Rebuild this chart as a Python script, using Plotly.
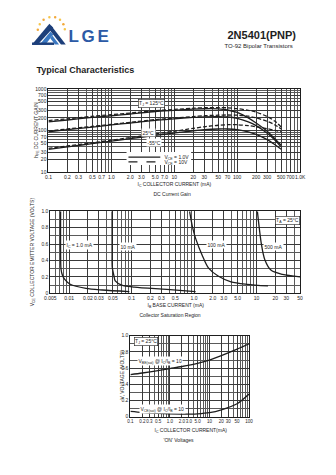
import math
import plotly.graph_objects as go

# ---------------- data ----------------
# DC current gain vs collector current (mA)
ic_gain = [0.1, 0.2, 0.5, 1, 2, 5, 10, 20, 30, 50, 70, 100, 150, 200, 300, 400, 500]
hfe_125_1v = [160, 178, 205, 225, 248, 285, 305, 325, 332, 330, 310, 270, 200, 150, 95, 62, 44]
hfe_125_10v = [172, 190, 218, 240, 262, 298, 320, 342, 352, 355, 350, 335, 305, 275, 215, 165, 120]
hfe_25_1v = [92, 104, 120, 135, 150, 175, 190, 205, 212, 215, 210, 195, 160, 130, 85, 58, 40]
hfe_25_10v = [96, 108, 125, 140, 156, 182, 198, 215, 225, 232, 235, 232, 220, 200, 165, 135, 108]
hfe_m55_1v = [35, 40, 48, 55, 63, 76, 86, 98, 104, 108, 108, 104, 92, 80, 60, 45, 35]
hfe_m55_10v = [37, 42, 50, 58, 67, 82, 95, 112, 122, 133, 137, 137, 130, 122, 110, 100, 92]

gain_xticks = [0.1, 0.2, 0.3, 0.5, 0.7, 1, 2, 3, 5, 7, 10, 20, 30, 50, 70, 100, 200, 300, 500, 700, 1000]
gain_xtext = ["0.1", "0.2", "0.3", "0.5", "0.7", "1.0", "2.0", "3.0", "5.0", "7.0", "10", "20", "30",
              "50", "70", "100", "200", "300", "500", "700", "1.0K"]
gain_yticks = [10, 20, 30, 50, 70, 100, 200, 300, 500, 700, 1000]

# Collector saturation region: VCE vs base current (mA)
ib_1ma = [0.0073, 0.0073, 0.0074, 0.0078, 0.0085, 0.0104, 0.0186, 0.034, 0.092]
vce_1ma = [1.0, 0.5, 0.3, 0.22, 0.17, 0.11, 0.06, 0.04, 0.02]
ib_10ma = [0.0487, 0.0487, 0.049, 0.052, 0.0547, 0.0695, 0.111, 0.366, 1.06]
vce_10ma = [1.0, 0.5, 0.32, 0.22, 0.15, 0.10, 0.076, 0.048, 0.02]
ib_100ma = [0.85, 0.95, 1.06, 1.34, 1.70, 2.43, 3.91, 7.07, 15.3]
vce_100ma = [1.0, 0.8, 0.67, 0.47, 0.31, 0.21, 0.14, 0.11, 0.09]
ib_500ma = [10.35, 12.05, 13.6, 17.2, 26.1, 50]
vce_500ma = [1.0, 0.59, 0.41, 0.28, 0.23, 0.2]

sat_xticks = [0.005, 0.01, 0.02, 0.03, 0.05, 0.1, 0.2, 0.3, 0.5, 1, 2, 3, 5, 10, 20, 30, 50]
sat_xtext = ["0.005", "0.01", "0.02", "0.03", "0.05", "0.1", "0.2", "0.3", "0.5", "1.0", "2.0",
             "3.0", "5.0", "10", "20", "30", "50"]
volt_yticks = [0, 0.2, 0.4, 0.6, 0.8, 1.0]
volt_ytext = ["0", "0.2", "0.4", "0.6", "0.8", "1.0"]

# "ON" voltages vs collector current (mA)
ic_on = [0.1, 0.2, 0.5, 1, 2, 5, 10, 20, 50, 100]
vbe_sat = [0.52, 0.54, 0.57, 0.595, 0.62, 0.66, 0.70, 0.755, 0.835, 0.90]
vce_sat = [0.065, 0.052, 0.04, 0.034, 0.032, 0.036, 0.05, 0.085, 0.16, 0.28]

on_xticks = [0.1, 0.2, 0.3, 0.5, 1, 2, 3, 5, 10, 20, 30, 50, 100]
on_xtext = ["0.1", "0.2", "0.3", "0.5", "1.0", "2.0", "3.0", "5.0", "10", "20", "30", "50", "100"]

# ---------------- page geometry helpers ----------------
W, H = 336, 475
FONT = "Liberation Sans, Arial, sans-serif"
INK = "#1e1e1e"
TICK = 5


def fx(x):
    return x / W


def fy(y):
    return 1 - y / H


def decade_minors(lo, hi):
    vals = []
    e = math.floor(math.log10(lo))
    while 10 ** e <= hi:
        for m in range(1, 10):
            v = m * 10 ** e
            if lo <= v * 1.0000001 and v <= hi * 1.0000001:
                vals.append(v)
        e += 1
    return vals


annotations = []
shapes = []


def text(x, y, s, size=5, bold=False, xanchor="center", bg=None, border=None, angle=0, color=INK):
    if bold:
        s = "<b>" + s + "</b>"
    a = dict(x=fx(x), y=fy(y), xref="paper", yref="paper", text=s, showarrow=False,
             xanchor=xanchor, yanchor="middle", textangle=angle,
             font=dict(family=FONT, size=size, color=color), borderpad=0.5)
    if bg:
        a["bgcolor"] = bg
    if border:
        a["bordercolor"] = border
        a["borderwidth"] = 0.6
    annotations.append(a)


def poly(points, fill):
    d = "M " + " L ".join(f"{fx(px):.5f},{fy(py):.5f}" for px, py in points) + " Z"
    shapes.append(dict(type="path", path=d, xref="paper", yref="paper", fillcolor=fill,
                       line=dict(width=0), layer="above"))


def seg(x0, y0, x1, y1, color=INK, width=1.2, dash="solid"):
    shapes.append(dict(type="line", x0=fx(x0), y0=fy(y0), x1=fx(x1), y1=fy(y1),
                       xref="paper", yref="paper", line=dict(color=color, width=width, dash=dash),
                       layer="above"))


# ---------------- figure ----------------
fig = go.Figure()

LW = 1.3
DASH = "4px,2px"


def curve(x, y, xa, ya, dash="solid"):
    fig.add_trace(go.Scatter(x=x, y=y, xaxis=xa, yaxis=ya, mode="lines",
                             line=dict(color=INK, width=LW, dash=dash, shape="spline", smoothing=0.8),
                             showlegend=False, hoverinfo="skip"))


# DC current gain
curve(ic_gain, hfe_125_1v, "x", "y")
curve(ic_gain, hfe_125_10v, "x", "y", DASH)
curve(ic_gain, hfe_25_1v, "x", "y")
curve(ic_gain, hfe_25_10v, "x", "y", DASH)
curve(ic_gain, hfe_m55_1v, "x", "y")
curve(ic_gain, hfe_m55_10v, "x", "y", DASH)

# Collector saturation region
curve(ib_1ma, vce_1ma, "x2", "y2")
curve(ib_10ma, vce_10ma, "x2", "y2")
curve(ib_100ma, vce_100ma, "x2", "y2")
curve(ib_500ma, vce_500ma, "x2", "y2")

# ON voltages
curve(ic_on, vbe_sat, "x3", "y3")
curve(ic_on, vce_sat, "x3", "y3")

GRID = "#3a3a3a"


def axis(domain, anchor, rng, tickvals, ticktext, log=False, minor_vals=None, size=TICK):
    a = dict(domain=domain, anchor=anchor, range=rng, showline=True, linecolor=INK, linewidth=1,
             mirror=True, ticks="", showgrid=True, gridcolor=GRID, gridwidth=0.6, zeroline=False,
             tickmode="array", tickvals=tickvals, ticktext=ticktext, tickangle=0,
             tickfont=dict(family=FONT, size=size, color=INK), fixedrange=True)
    if log:
        a["type"] = "log"
    if minor_vals is not None:
        a["minor"] = dict(tickmode="array", tickvals=minor_vals, showgrid=True,
                          gridcolor="#5a5a5a", gridwidth=0.5, ticks="")
    return a


fig.update_layout(
    width=W, height=H, margin=dict(l=0, r=0, t=0, b=0),
    paper_bgcolor="white", plot_bgcolor="white", showlegend=False,
    xaxis=axis([fx(44), fx(305)], "y", [-1, 3], gain_xticks, gain_xtext, log=True,
               minor_vals=decade_minors(0.1, 1000)),
    yaxis=axis([fy(171), fy(87)], "x", [1, 3], gain_yticks, [str(v) for v in gain_yticks], log=True,
               minor_vals=decade_minors(10, 1000)),
    xaxis2=axis([fx(46), fx(305)], "y2", [math.log10(0.005), math.log10(50)], sat_xticks, sat_xtext,
                log=True, minor_vals=decade_minors(0.005, 50)),
    yaxis2=axis([fy(294), fy(211)], "x2", [0, 1.0], volt_yticks, volt_ytext,
                minor_vals=[i / 10 for i in range(11)]),
    xaxis3=axis([fx(129), fx(252)], "y3", [-1, 2], on_xticks, on_xtext, log=True,
                minor_vals=decade_minors(0.1, 100), size=4.5),
    yaxis3=axis([fy(419), fy(337)], "x3", [0, 1.0], volt_yticks, volt_ytext,
                minor_vals=[i / 10 for i in range(11)]),
)

# ---------------- header ----------------
# logo mark: stacked peaks
NAVY = "#1d3f7a"
BLUE = "#3a78c2"
poly([(27, 42), (45, 21), (49, 25), (33, 42)], NAVY)
poly([(35, 42), (46, 29), (49, 32), (41, 42)], BLUE)
poly([(47, 23), (62, 42), (57, 42), (45, 27)], NAVY)
poly([(48, 33), (55, 42), (51, 42), (46, 36)], BLUE)
poly([(27, 40), (50, 40), (50, 42.5), (27, 42.5)], NAVY)
# arc of dots
dot_colors = ["#f2a93b", "#f6c54a", "#f2a93b", "#f6c54a", "#f2a93b", "#f6c54a", "#f2a93b", "#f6c54a"]
dot_pts = [(33, 27), (35, 21.5), (39, 17), (45, 14.5), (51, 14.5), (56, 17), (59.5, 21.5), (61, 26.5)]
for (dx, dy), c in zip(dot_pts, dot_colors):
    shapes.append(dict(type="circle", xref="paper", yref="paper",
                       x0=fx(dx - 1.3), x1=fx(dx + 1.3), y0=fy(dy + 1.3), y1=fy(dy - 1.3),
                       fillcolor=c, line=dict(width=0), layer="above"))
for ch, cx in zip("LGE", [70, 85.5, 100.5]):
    text(cx, 33.5, ch, size=17, bold=True, color="#2c5aa6")

text(265, 32, "2N5401(PNP)", size=11, bold=True)
text(262, 43.5, "TO-92 Bipolar Transistors", size=6)
text(30, 67, "Typical Characteristics", size=9, bold=True, xanchor="left")

# ---------------- DC current gain labels ----------------
text(32, 128, "h<sub>FE</sub> DC CURRENT GAIN", angle=-90)
text(175, 183, "I<sub>C</sub> COLLECTOR CURRENT (mA)")
text(172, 193, "DC Current Gain")
text(151, 101.5, "T<sub>J</sub> = 125°C", bg="white", border=INK)
text(148, 131, "25°C", bg="white")
text(153, 141.5, "-55°C", bg="white")
# legend
shapes.append(dict(type="rect", xref="paper", yref="paper", x0=fx(125), x1=fx(192), y0=fy(164),
                   y1=fy(151), fillcolor="white", line=dict(width=0), layer="above"))
seg(127, 156, 160, 156)
seg(127, 161, 160, 161, dash="dash")
text(163, 156, "V<sub>CE</sub> = 1.0V", xanchor="left")
text(163, 161, "V<sub>CE</sub> = 10V", xanchor="left")

# ---------------- saturation labels ----------------
text(27, 252, "V<sub>CE</sub> COLLECTOR EMITTER VOLTAGE (VOLTS)", angle=-90)
text(176, 306, "I<sub>B</sub> BASE CURRENT (mA)")
text(170, 315, "Collector Saturation Region")
text(292, 220.5, "T<sub>A</sub> = 25°C", bg="white", border=INK)
text(76, 245, "I<sub>C</sub> = 1.0 mA", bg="white")
text(126, 247, "10 mA", bg="white")
text(218, 245, "100 mA", bg="white")
text(277, 247, "500 mA", bg="white")

# ---------------- ON voltage labels ----------------
text(120, 376, "V, VOLTAGE (VOLTS)", angle=-90)
text(192, 432, "I<sub>C</sub> COLLECTOR CURRENT(mA)")
text(179, 442, "'ON' Voltages")
text(145, 342.5, "T<sub>J</sub> = 25°C", bg="white", border=INK)
text(160, 363, "V<sub>BE(sat)</sub> @ I<sub>C</sub>/I<sub>B</sub> = 10", bg="white")
text(162, 411, "V<sub>CE(sat)</sub> @ I<sub>C</sub>/I<sub>B</sub> = 10", bg="white")

fig.update_layout(annotations=annotations, shapes=shapes)
fig.write_html("out.html")
